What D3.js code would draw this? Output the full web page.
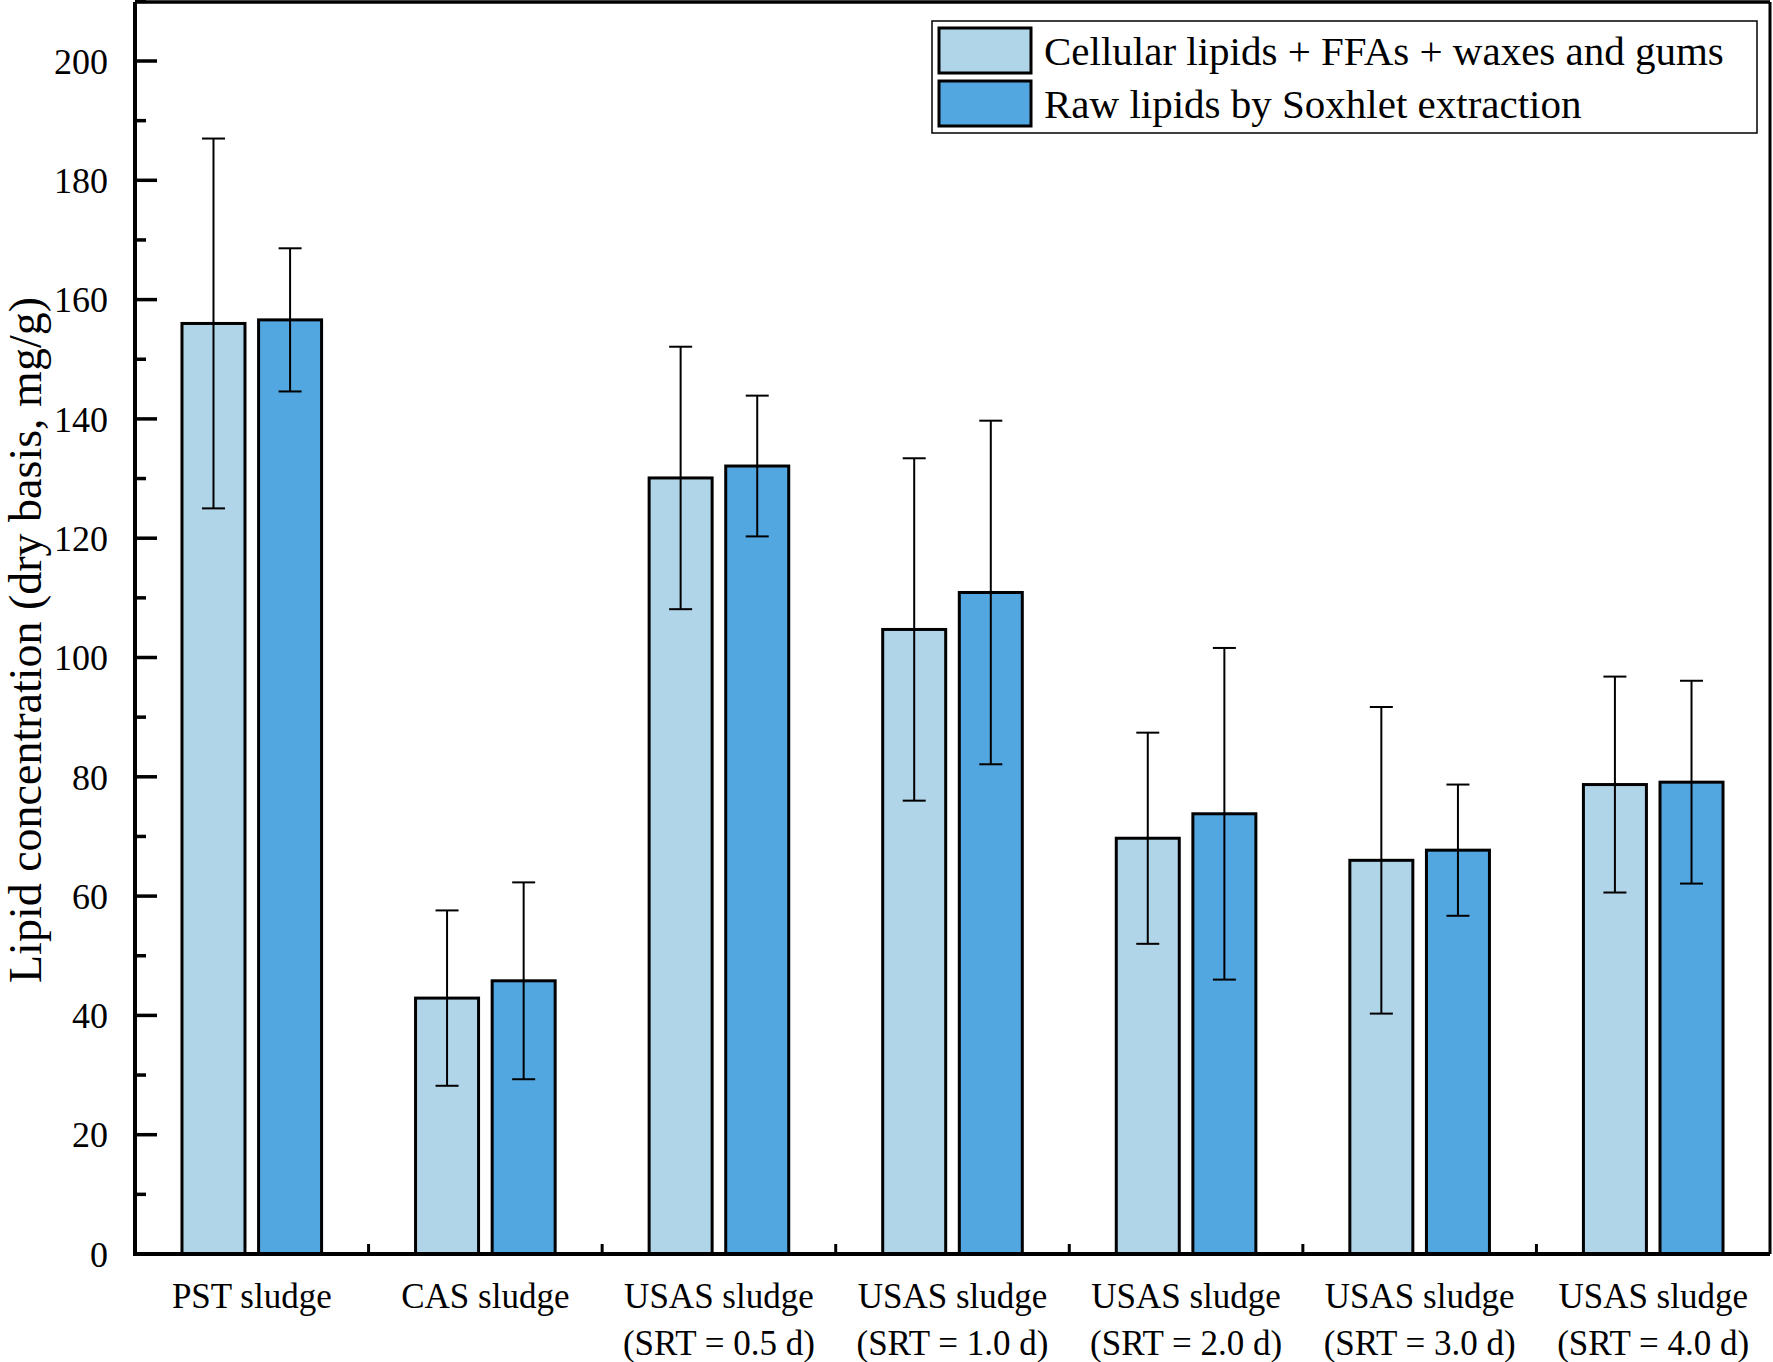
<!DOCTYPE html>
<html>
<head>
<meta charset="utf-8">
<script src="https://cdn.jsdelivr.net/npm/d3@7/dist/d3.min.js"></script>
<style>
  body { margin: 0; background: #fff; }
  svg text { font-family: "Liberation Serif", "Times New Roman", serif; fill: #000; }
</style>
</head>
<body>
<div id="main_chart"></div>
<script>
var categories = ['PST sludge', 'CAS sludge', 'USAS sludge|(SRT = 0.5 d)', 'USAS sludge|(SRT = 1.0 d)',
    'USAS sludge|(SRT = 2.0 d)', 'USAS sludge|(SRT = 3.0 d)', 'USAS sludge|(SRT = 4.0 d)'],
  series_names = ['Cellular lipids + FFAs + waxes and gums', 'Raw lipids by Soxhlet extraction'],
  cellular_vals = [156.0, 42.9, 130.1, 104.7, 69.7, 66.0, 78.7],
  cellular_err = [31.0, 14.7, 22.0, 28.7, 17.7, 25.7, 18.1],
  raw_vals = [156.6, 45.8, 132.1, 110.9, 73.8, 67.7, 79.1],
  raw_err = [12.0, 16.5, 11.8, 28.8, 27.8, 11.0, 17.0],
  y_ticks = [0, 20, 40, 60, 80, 100, 120, 140, 160, 180, 200],
  colors = ['#b0d4e8', '#53a7e0'];

function drawChart() {
  var W = 1773, H = 1362,
    margin = {top: 2, right: 3, bottom: 108, left: 135},
    width = W - margin.left - margin.right,
    height = H - margin.top - margin.bottom;

  var svg = d3.select('#main_chart').append('svg')
    .attr('width', W)
    .attr('height', H);

  var g = svg.append('g')
    .attr('transform', 'translate(' + margin.left + ',' + margin.top + ')');

  var x = d3.scaleBand()
    .domain(categories)
    .range([0, width])
    .padding(0);

  // 200 sits ~59px below the top frame
  var y = d3.scaleLinear()
    .domain([0, 200 * height / (1254 - 61)])
    .range([height, 0]);

  var barW = 63,
    gap = 13.6;

  var series = [
    {name: series_names[0], vals: cellular_vals, err: cellular_err, color: colors[0], off: -gap / 2 - barW},
    {name: series_names[1], vals: raw_vals, err: raw_err, color: colors[1], off: gap / 2}
  ];

  series.forEach(function (s) {
    var grp = g.append('g');

    grp.selectAll('rect')
      .data(categories)
      .enter().append('rect')
      .attr('x', function (d) { return x(d) + x.bandwidth() / 2 + s.off; })
      .attr('y', function (d, i) { return y(s.vals[i]); })
      .attr('width', barW)
      .attr('height', function (d, i) { return y(0) - y(s.vals[i]); })
      .attr('fill', s.color)
      .attr('stroke', '#000')
      .attr('stroke-width', 3);

    // error bars
    categories.forEach(function (d, i) {
      var cx = x(d) + x.bandwidth() / 2 + s.off + barW / 2,
        hi = y(s.vals[i] + s.err[i]),
        lo = y(s.vals[i] - s.err[i]);

      grp.append('line').attr('x1', cx).attr('x2', cx).attr('y1', hi).attr('y2', lo);
      grp.append('line').attr('x1', cx - 11.5).attr('x2', cx + 11.5).attr('y1', hi).attr('y2', hi);
      grp.append('line').attr('x1', cx - 11.5).attr('x2', cx + 11.5).attr('y1', lo).attr('y2', lo);
    });

    grp.selectAll('line').attr('stroke', '#000').attr('stroke-width', 2);
  });

  // y axis labels, ticks drawn inward below
  var yAxis = g.append('g').call(d3.axisLeft(y).tickValues(y_ticks).tickSize(0).tickPadding(27));
  yAxis.select('.domain').remove();
  yAxis.selectAll('text').attr('font-size', 36).attr('dy', '0.34em');

  g.selectAll('.ymajor')
    .data(y_ticks)
    .enter().append('line')
    .attr('x1', 0).attr('x2', 22)
    .attr('y1', function (d) { return y(d); }).attr('y2', function (d) { return y(d); })
    .attr('stroke', '#000').attr('stroke-width', 3.5);

  g.selectAll('.yminor')
    .data(d3.range(10, 220, 20))
    .enter().append('line')
    .attr('x1', 0).attr('x2', 11)
    .attr('y1', function (d) { return y(d); }).attr('y2', function (d) { return y(d); })
    .attr('stroke', '#000').attr('stroke-width', 3.5);

  // x ticks at band boundaries
  g.selectAll('.xtick')
    .data(categories.slice(1))
    .enter().append('line')
    .attr('x1', function (d) { return x(d); }).attr('x2', function (d) { return x(d); })
    .attr('y1', height).attr('y2', height - 10)
    .attr('stroke', '#000').attr('stroke-width', 3);

  // category labels, two lines
  categories.forEach(function (d) {
    var parts = d.split('|'),
      t = g.append('text')
        .attr('x', x(d) + x.bandwidth() / 2)
        .attr('y', height + 54)
        .attr('text-anchor', 'middle')
        .attr('font-size', 35);

    parts.forEach(function (p, k) {
      t.append('tspan')
        .attr('x', x(d) + x.bandwidth() / 2)
        .attr('dy', k ? 47 : 0)
        .text(p);
    });
  });

  // frame
  g.append('line').attr('x1', 0).attr('x2', width).attr('y1', height).attr('y2', height)
    .attr('stroke', '#000').attr('stroke-width', 4);
  g.append('line').attr('x1', 0).attr('x2', 0).attr('y1', 0).attr('y2', height + 2)
    .attr('stroke', '#000').attr('stroke-width', 4);
  g.append('line').attr('x1', 0).attr('x2', width).attr('y1', 0).attr('y2', 0)
    .attr('stroke', '#000').attr('stroke-width', 3.5);
  g.append('line').attr('x1', width).attr('x2', width).attr('y1', 0).attr('y2', height)
    .attr('stroke', '#000').attr('stroke-width', 3);

  // y title
  svg.append('text')
    .attr('transform', 'translate(41,' + (margin.top + height / 2 + 12) + ') rotate(-90)')
    .attr('text-anchor', 'middle')
    .attr('font-size', 46)
    .text('Lipid concentration (dry basis, mg/g)');

  // legend
  var lg = svg.append('g').attr('transform', 'translate(932,21)');

  lg.append('rect')
    .attr('width', 825).attr('height', 112)
    .attr('fill', '#fff').attr('stroke', '#000').attr('stroke-width', 1.5);

  series.forEach(function (s, i) {
    lg.append('rect')
      .attr('x', 7).attr('y', 7 + i * 53)
      .attr('width', 92).attr('height', 45)
      .attr('fill', s.color).attr('stroke', '#000').attr('stroke-width', 3);

    lg.append('text')
      .attr('x', 112).attr('y', 44 + i * 53)
      .attr('font-size', 41)
      .text(s.name);
  });
}

drawChart();
</script>
</body>
</html>
